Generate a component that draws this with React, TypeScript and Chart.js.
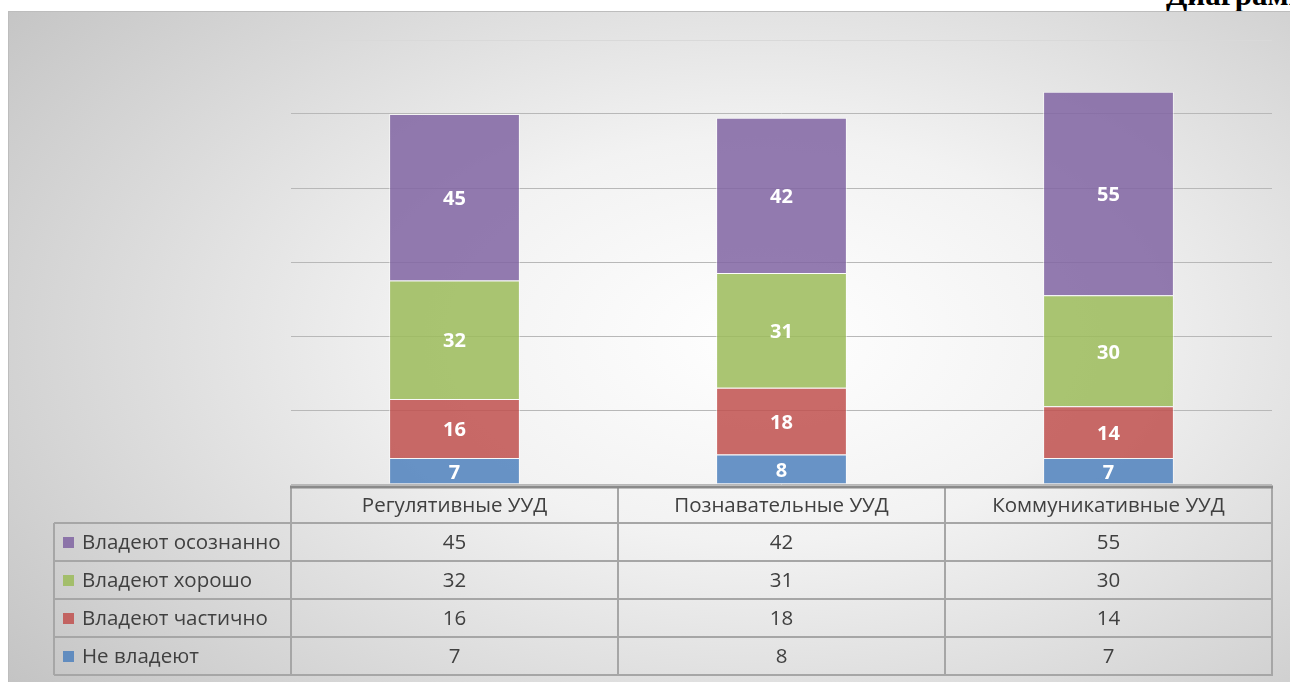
import React, { useEffect, useRef } from "react";
import { Chart, registerables } from "chart.js";

Chart.register(...registerables);

const categories = ["Регулятивные УУД", "Познавательные УУД", "Коммуникативные УУД"];
const notOwn = [7, 8, 7];
const partly = [16, 18, 14];
const well = [32, 31, 30];
const consciously = [45, 42, 55];
const seriesNames = ["Не владеют", "Владеют частично", "Владеют хорошо", "Владеют осознанно"];
const yTicks = [0, 20, 40, 60, 80, 100, 120];

const colors = [
  "rgba(79,129,189,0.85)",
  "rgba(192,80,77,0.85)",
  "rgba(155,187,89,0.85)",
  "rgba(128,100,162,0.85)",
];

const FONT = "'Open Sans', 'Noto Sans', sans-serif";

export default function App() {
  const ref = useRef<HTMLCanvasElement>(null);

  useEffect(() => {
    if (!ref.current) return;
    const seriesData = [notOwn, partly, well, consciously];

    const labelPlugin = {
      id: "segLabels",
      afterDatasetsDraw(chart: any) {
        const ctx = chart.ctx;
        ctx.save();
        ctx.fillStyle = "#ffffff";
        ctx.font = `bold 20px ${FONT}`;
        ctx.textAlign = "center";
        ctx.textBaseline = "middle";
        chart.data.datasets.forEach((ds: any, di: number) => {
          const meta = chart.getDatasetMeta(di);
          meta.data.forEach((el: any, i: number) => {
            ctx.fillText(String(ds.data[i]), el.x, (el.y + el.base) / 2 + 2);
          });
        });
        ctx.restore();
      },
    };

    const tablePlugin = {
      id: "dataTable",
      afterDraw(chart: any) {
        const ctx = chart.ctx;
        const ca = chart.chartArea;
        const xs = chart.scales.x;
        const colW = (ca.right - ca.left) / categories.length;
        const legendLeft = 45;
        const headTop = ca.bottom + 3;
        const headBottom = headTop + 36;
        const rowH = 38;
        const rowOrder = [3, 2, 1, 0];
        const tableBottom = headBottom + rowH * rowOrder.length;
        ctx.save();
        ctx.strokeStyle = "#a6a6a6";
        ctx.lineWidth = 2;
        for (let r = 0; r <= rowOrder.length; r++) {
          const y = headBottom + r * rowH;
          ctx.beginPath();
          ctx.moveTo(legendLeft, y);
          ctx.lineTo(ca.right + 1, y);
          ctx.stroke();
        }
        for (let c = 0; c <= categories.length; c++) {
          const x = ca.left + c * colW;
          ctx.beginPath();
          ctx.moveTo(x, headTop);
          ctx.lineTo(x, tableBottom);
          ctx.stroke();
        }
        ctx.beginPath();
        ctx.moveTo(legendLeft, headBottom);
        ctx.lineTo(legendLeft, tableBottom);
        ctx.stroke();
        ctx.strokeStyle = "#8a8a8a";
        ctx.lineWidth = 3;
        ctx.beginPath();
        ctx.moveTo(ca.left - 1, headTop);
        ctx.lineTo(ca.right + 1, headTop);
        ctx.stroke();
        ctx.fillStyle = "#404040";
        ctx.font = `20.5px ${FONT}`;
        ctx.textAlign = "center";
        ctx.textBaseline = "middle";
        categories.forEach((c, i) => {
          ctx.fillText(c, xs.getPixelForValue(i), (headTop + headBottom) / 2 + 1);
        });
        rowOrder.forEach((si, r) => {
          const yMid = headBottom + r * rowH + rowH / 2;
          ctx.textAlign = "center";
          ctx.fillStyle = "#404040";
          seriesData[si].forEach((v, i) => {
            ctx.fillText(String(v), xs.getPixelForValue(i), yMid + 1);
          });
          ctx.fillStyle = colors[si];
          ctx.fillRect(legendLeft + 9, yMid - 5, 11, 11);
          ctx.fillStyle = "#404040";
          ctx.textAlign = "left";
          ctx.fillText(seriesNames[si], legendLeft + 28, yMid + 1);
        });
        ctx.restore();
      },
    };

    const chart = new Chart(ref.current, {
      type: "bar",
      data: {
        labels: categories,
        datasets: seriesData.map((d, i) => ({
          label: seriesNames[i],
          data: d,
          backgroundColor: colors[i],
          borderColor: "rgba(255,255,255,0.55)",
          borderWidth: 1,
          categoryPercentage: 1,
          barPercentage: 0.4,
        })),
      },
      options: {
        animation: false,
        responsive: false,
        maintainAspectRatio: false,
        layout: { padding: { left: 282, right: 19, top: 28, bottom: 198 } },
        plugins: { legend: { display: false }, tooltip: { enabled: false } },
        scales: {
          x: { stacked: true, display: false },
          y: {
            stacked: true,
            min: 0,
            max: 120,
            afterBuildTicks: (s: any) => {
              s.ticks = yTicks.map((v) => ({ value: v }));
            },
            afterFit: (s: any) => {
              s.width = 0;
            },
            ticks: { display: false },
            border: { display: false },
            grid: {
              drawTicks: false,
              color: (c: any) => (c.tick && c.tick.value === 120 ? "#d9d9d9" : "#b8b8b8"),
              lineWidth: 1,
            },
          },
        },
      },
      plugins: [labelPlugin, tablePlugin],
    });
    return () => chart.destroy();
  }, []);

  return (
    <div style={{ position: "fixed", left: 0, top: 0, width: 1290, height: 682, overflow: "hidden", background: "#fff" }}>
      <div
        style={{
          position: "absolute",
          left: 1166,
          top: -21,
          fontFamily: "'Liberation Serif', 'Times New Roman', serif",
          fontWeight: "bold",
          fontSize: 31,
          lineHeight: "31px",
          whiteSpace: "nowrap",
          color: "#000",
        }}
      >
        Диаграмма
      </div>
      <div
        style={{
          position: "absolute",
          left: 8,
          top: 11,
          width: 1300,
          height: 680,
          borderTop: "1px solid #bdbdbd",
          borderLeft: "1px solid #bdbdbd",
          background:
            "radial-gradient(75% 85% at 58% 48%, #ffffff 0%, #f2f2f2 35%, #c2c2c2 100%)",
        }}
      >
        <canvas ref={ref} width={1282} height={670} style={{ display: "block", width: 1282, height: 670 }} />
      </div>
    </div>
  );
}
